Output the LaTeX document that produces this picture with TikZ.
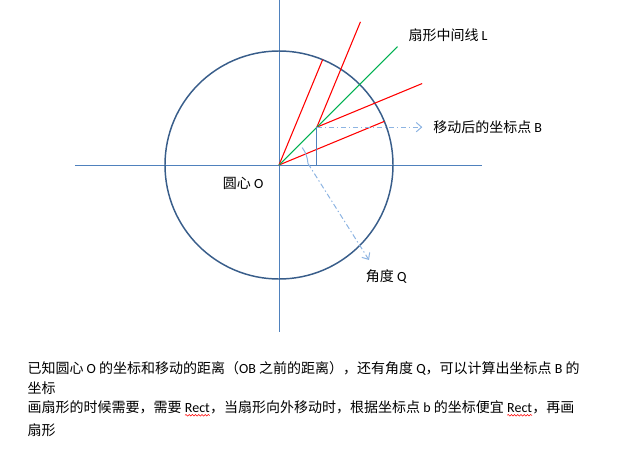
\documentclass[tikz,border=0pt]{standalone}
\usepackage{fontspec}
\setmainfont{Carlito}
\newfontfamily\cjk{Noto Sans CJK SC}
\newfontfamily\latin{Carlito}
\usetikzlibrary{arrows.meta,positioning,decorations.pathmorphing}

\definecolor{axisblue}{RGB}{79,129,189}
\definecolor{circleblue}{RGB}{56,93,138}
\definecolor{calloutblue}{RGB}{141,180,226}
\definecolor{midgreen}{RGB}{0,176,80}

\newcommand\en[1]{{\latin #1}}
\newcommand\spellwave[1]{\tikz[baseline=(w.base)]{\node[inner sep=0pt,outer sep=0pt,anchor=base] (w) {\latin #1};
  \draw[red,line width=0.4pt,decorate,decoration={snake,amplitude=0.6pt,segment length=2.4pt}] ([yshift=-2.4pt]w.base west) -- ([yshift=-2.4pt]w.base east);}}

\begin{document}
\begin{tikzpicture}[x=0.75pt,y=0.75pt,
  axis/.style={color=axisblue,line width=0.75pt},
  edge/.style={color=red,line width=0.8pt},
  callout/.style={color=calloutblue,line width=0.75pt,dash pattern=on 4pt off 2pt on 1pt off 2pt},
  lbl/.style={font=\cjk\fontsize{10.5pt}{12pt}\selectfont,inner sep=0pt,anchor=west}]
\useasboundingbox (-279,-285) rectangle (348,165);

\coordinate (O) at (0,0);
\draw[axis] (-204,0) -- (203,0);
\draw[axis] (0,165) -- (0,-167);
\draw[color=circleblue,line width=1.1pt] (O) circle[radius=114];

% sector at the centre and the moved sector
\coordinate (B) at (45:53.5);
\draw[edge] (O) -- (22.5:114);
\draw[edge] (O) -- (67.5:114);
\draw[edge] (B) -- ++(22.5:114);
\draw[edge] (B) -- ++(67.5:114);
\draw[midgreen,line width=0.8pt] (O) -- (45:167.5) coordinate (Lend);
\draw[axis] (B) -- (B |- O);

% callouts
\draw[callout,-{Straight Barb[length=4pt,width=7pt]}] (B) -- ++(105.5,0) coordinate (Bend);
\draw[calloutblue,line width=0.75pt] (37:29) arc[start angle=37,end angle=3,radius=29] coordinate (Qstart);
\draw[callout,-{Straight Barb[length=4pt,width=7pt]}] (Qstart) -- (90,-95) coordinate (Qend);

\node[lbl,right=8pt of Bend] (labelB) {移动后的坐标点 \en{B}};
\node[lbl] (labelL) at (129.3,130) {扇形中间线 \en{L}};
\node[lbl] (labelO) at (-56.3,-18.3) {圆心 \en{O}};
\node[lbl] (labelQ) at (86.7,-111.7) {角度 \en{Q}};

\node[lbl] (line1) at (-251.7,-203.3) {已知圆心 \en{O} 的坐标和移动的距离（\en{OB} 之前的距离），还有角度 \en{Q}，可以计算出坐标点 \en{B} 的};
\node[lbl] (line2) at (-251.7,-222.7) {坐标};
\node[lbl] (line3) at (-251.7,-243.3) {画扇形的时候需要，需要 \spellwave{Rect}，当扇形向外移动时，根据坐标点 \en{b} 的坐标便宜 \spellwave{Rect}，再画};
\node[lbl] (line4) at (-251.7,-265) {扇形};
\end{tikzpicture}
\end{document}
